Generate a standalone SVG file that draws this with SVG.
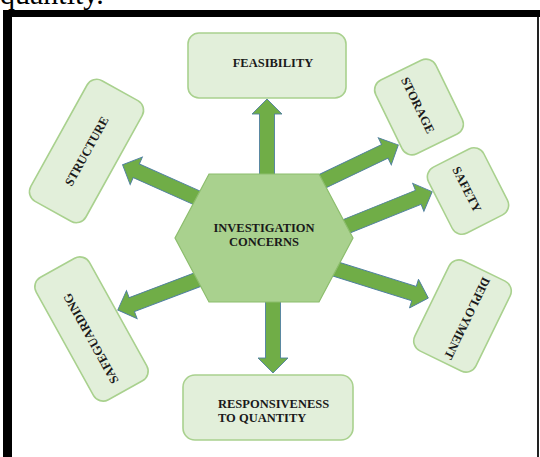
<svg xmlns="http://www.w3.org/2000/svg" width="540" height="457" viewBox="0 0 540 457">
<defs>
<style>
.box{fill:#e2efda;stroke:#a9d18e;stroke-width:1.6}
.hex{fill:#a9d18e;stroke:#8cbd6c;stroke-width:1.2}
.arrow{fill:#70ad47;stroke:#4f7fa0;stroke-width:0.9}
.lbl{font-family:"Liberation Serif","Times New Roman",serif;font-weight:bold;font-size:12.5px;fill:#1a1a1a}
.c{text-anchor:middle}
</style>
</defs>
<rect width="540" height="457" fill="#ffffff"/>
<text x="0" y="4" font-family="Liberation Serif, serif" font-size="30" fill="#000">quantity.</text>
<g id="frame">
<rect x="3" y="10" width="537" height="7" fill="#000"/>
<rect x="3" y="10" width="9" height="447" fill="#000"/>
<line x1="538" y1="17" x2="538" y2="457" stroke="#222" stroke-width="2"/>
</g>
<g id="connectors">
<path class="arrow" transform="translate(267,186) rotate(-90)" d="M0,-7.5 H72 V-15 L87,0 L72,15 V7.5 H0 Z"/>
<path class="arrow" transform="translate(213,205) rotate(-156)" d="M0,-7.5 H84 V-15 L99,0 L84,15 V7.5 H0 Z"/>
<path class="arrow" transform="translate(300,192) rotate(-25.6)" d="M0,-7.5 H94 V-15 L109,0 L94,15 V7.5 H0 Z"/>
<path class="arrow" transform="translate(320,237) rotate(-22)" d="M0,-7.5 H106 V-15 L121,0 L106,15 V7.5 H0 Z"/>
<path class="arrow" transform="translate(310,261) rotate(17.4)" d="M0,-7.5 H109 V-15 L124,0 L109,15 V7.5 H0 Z"/>
<path class="arrow" transform="translate(273,295) rotate(90)" d="M0,-7.5 H63 V-15 L78,0 L63,15 V7.5 H0 Z"/>
<path class="arrow" transform="translate(215,273) rotate(159.2)" d="M0,-7.5 H89 V-15 L104,0 L89,15 V7.5 H0 Z"/>
</g>
<g id="center">
<polygon class="hex" points="209,174 319,174 353,238 319,302 209,302 175,238"/>
<text class="lbl c" x="264" y="232">INVESTIGATION</text>
<text class="lbl c" x="264" y="246">CONCERNS</text>
</g>
<g id="feasibility">
<rect class="box" x="188" y="33" width="158" height="65" rx="11"/>
<text class="lbl c" x="273" y="67">FEASIBILITY</text>
</g>
<g id="structure" transform="translate(86.5,151) rotate(-61)">
<rect class="box" x="-69" y="-31.5" width="138" height="63" rx="11"/>
<text class="lbl c" x="0" y="4.5">STRUCTURE</text>
</g>
<g id="storage" transform="translate(419,107) rotate(64)">
<rect class="box" x="-41" y="-33.5" width="82" height="67" rx="11"/>
<text class="lbl c" x="-2" y="4.5">STORAGE</text>
</g>
<g id="safety" transform="translate(468,191) rotate(63)">
<rect class="box" x="-37" y="-31" width="74" height="62" rx="11"/>
<text class="lbl c" x="-2" y="4.5">SAFETY</text>
</g>
<g id="deployment" transform="translate(462.5,316) rotate(116)">
<rect class="box" x="-50" y="-34" width="100" height="68" rx="11"/>
<text class="lbl c" x="0" y="-1" font-size="11.5">DEPLOYMENT</text>
</g>
<g id="safeguarding" transform="translate(91.5,329) rotate(-119)">
<rect class="box" x="-70" y="-30.5" width="140" height="61" rx="11"/>
<text class="lbl c" x="-8" y="-1" font-size="11.5">SAFEGUARDING</text>
</g>
<g id="responsiveness">
<rect class="box" x="183" y="375" width="170" height="65" rx="12"/>
<text class="lbl" x="218" y="408">RESPONSIVENESS</text>
<text class="lbl" x="218" y="422">TO QUANTITY</text>
</g>
</svg>
